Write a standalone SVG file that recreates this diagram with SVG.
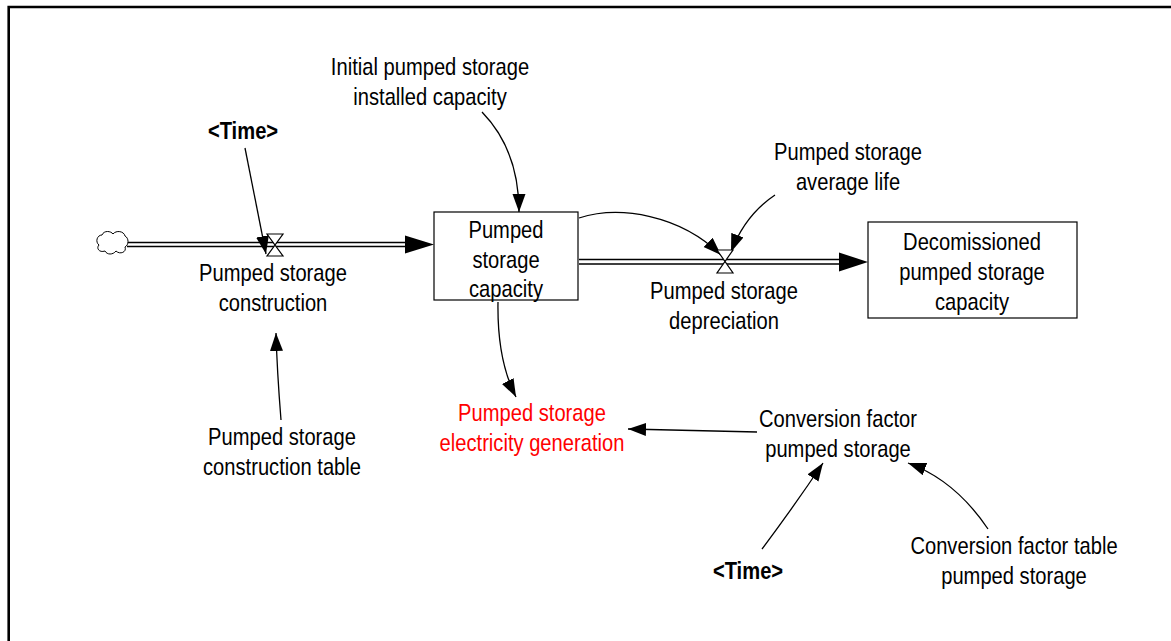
<svg xmlns="http://www.w3.org/2000/svg" width="1171" height="641" viewBox="0 0 1171 641">
<defs>
<style>
.t{font-family:"Liberation Sans",Arial,sans-serif;font-size:24px;fill:#000;text-anchor:middle}
.b{font-weight:bold}
.red{fill:#ff0000}
.box{fill:#fff;stroke:#000;stroke-width:1.2}
.pipe{stroke:#000;stroke-width:1.3;fill:none}
.lnk{stroke:#000;stroke-width:1.3;fill:none;marker-end:url(#ah)}
.valve{fill:#fff;stroke:#000;stroke-width:1.2}
</style>
<marker id="ah" markerUnits="userSpaceOnUse" markerWidth="20" markerHeight="14" refX="18" refY="6.5" orient="auto">
<path d="M0,0 L18,6.5 L0,13 z" fill="#000"/>
</marker>
</defs>
<rect width="1171" height="641" fill="#fff"/>
<path d="M8.7,660 V7 H1200" fill="none" stroke="#000" stroke-width="2.6"/>

<g id="connectors">
<path class="pipe" d="M127,242.5 H406 M127,246.5 H406"/>
<polygon points="405,235.5 434,244.5 405,253.5" fill="#000"/>
<path class="pipe" d="M579,259.5 H840 M579,264 H840"/>
<polygon points="839,252.5 868,262 839,271.5" fill="#000"/>
<path class="lnk" d="M482,112 Q519,150 519,212"/>
<path class="lnk" d="M245,148 L266,254"/>
<path class="lnk" d="M281,420 Q277,370 276,333"/>
<path class="lnk" d="M579,218 C620,205 680,215 721,255"/>
<path class="lnk" d="M775,195 Q745,215 731,252"/>
<path class="lnk" d="M498,302 Q497,360 516,397"/>
<path class="lnk" d="M757,432 L628,429"/>
<path class="lnk" d="M762,549 Q795,505 823,463"/>
<path class="lnk" d="M988,529 Q955,480 908,463"/>
</g>

<g id="cloud">
<path d="M102,235 C104,230 111,231 113,234 C116,230 124,231 125,236 C129,238 129,245 125,247 C127,252 120,255 116,251 C113,255 107,255 105,251 C99,253 96,248 99,245 C95,242 97,235 102,235 z" fill="#fff" stroke="#000" stroke-width="1"/>
</g>

<g id="valve-construction">
<polygon class="valve" points="267,234 283,234 267,256 283,256"/>
</g>
<g id="valve-depreciation">
<polygon class="valve" points="717,250 733,250 717,273 733,273"/>
</g>

<g id="stock-capacity">
<rect class="box" x="434" y="212" width="144" height="88"/>
<text class="t" transform="translate(506,238) scale(0.84,1)"><tspan x="0" y="0">Pumped</tspan><tspan x="0" y="30">storage</tspan><tspan x="0" y="59">capacity</tspan></text>
</g>

<g id="stock-decommissioned">
<rect class="box" x="868" y="222" width="209" height="96"/>
<text class="t" transform="translate(972,250) scale(0.84,1)"><tspan x="0" y="0">Decomissioned</tspan><tspan x="0" y="30">pumped storage</tspan><tspan x="0" y="60">capacity</tspan></text>
</g>

<g id="initial-capacity">
<text class="t" transform="translate(430,75) scale(0.84,1)"><tspan x="0" y="0">Initial pumped storage</tspan><tspan x="0" y="30">installed capacity</tspan></text>
</g>

<g id="time-top">
<text class="t b" transform="translate(243,139) scale(0.84,1)">&lt;Time&gt;</text>
</g>

<g id="construction">
<text class="t" transform="translate(273,281) scale(0.84,1)"><tspan x="0" y="0">Pumped storage</tspan><tspan x="0" y="30">construction</tspan></text>
</g>

<g id="construction-table">
<text class="t" transform="translate(282,445) scale(0.84,1)"><tspan x="0" y="0">Pumped storage</tspan><tspan x="0" y="30">construction table</tspan></text>
</g>

<g id="average-life">
<text class="t" transform="translate(848,160) scale(0.84,1)"><tspan x="0" y="0">Pumped storage</tspan><tspan x="0" y="30">average life</tspan></text>
</g>

<g id="depreciation">
<text class="t" transform="translate(724,299) scale(0.84,1)"><tspan x="0" y="0">Pumped storage</tspan><tspan x="0" y="30">depreciation</tspan></text>
</g>

<g id="electricity-generation">
<text class="t red" transform="translate(532,421) scale(0.84,1)"><tspan x="0" y="0">Pumped storage</tspan><tspan x="0" y="30">electricity generation</tspan></text>
</g>

<g id="conversion-factor">
<text class="t" transform="translate(838,427) scale(0.84,1)"><tspan x="0" y="0">Conversion factor</tspan><tspan x="0" y="30">pumped storage</tspan></text>
</g>

<g id="time-bottom">
<text class="t b" transform="translate(748,579) scale(0.84,1)">&lt;Time&gt;</text>
</g>

<g id="conversion-table">
<text class="t" transform="translate(1014,554) scale(0.84,1)"><tspan x="0" y="0">Conversion factor table</tspan><tspan x="0" y="30">pumped storage</tspan></text>
</g>
</svg>
